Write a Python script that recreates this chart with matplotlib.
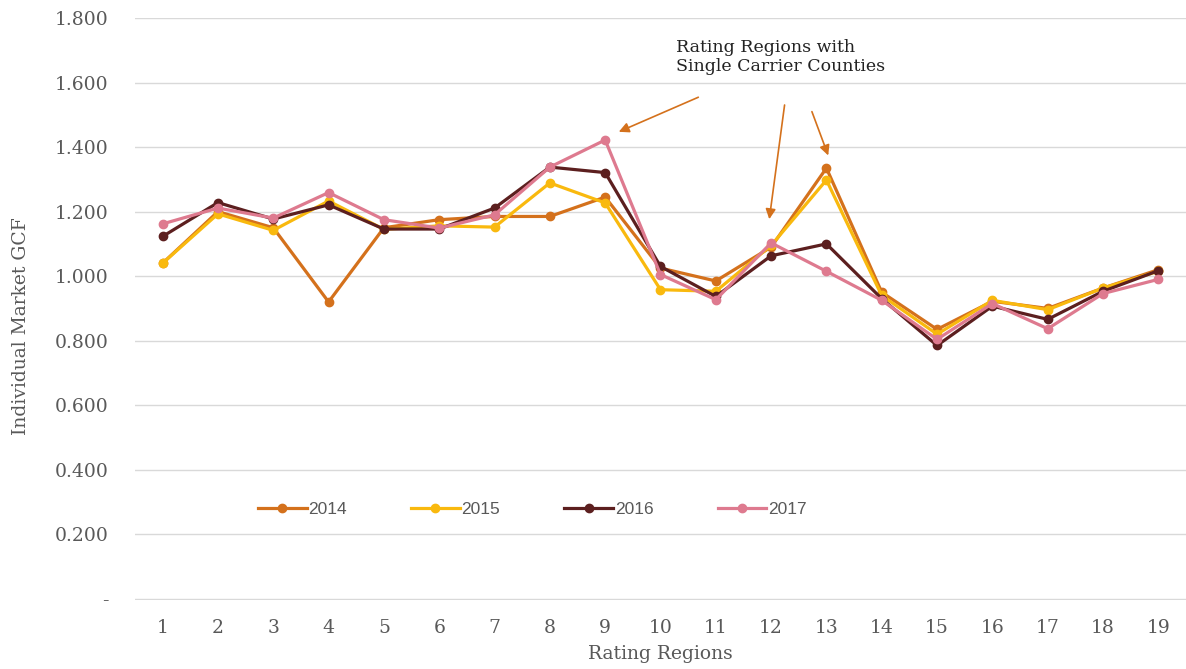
import matplotlib.pyplot as plt
from matplotlib.ticker import FuncFormatter

regions = list(range(1, 20))
gcf_2014 = [1.040, 1.200, 1.150, 0.920, 1.150, 1.175, 1.185, 1.185, 1.245, 1.025, 0.985, 1.090, 1.335, 0.950, 0.835, 0.922, 0.900, 0.963, 1.020]
gcf_2015 = [1.040, 1.193, 1.142, 1.233, 1.145, 1.156, 1.152, 1.289, 1.227, 0.958, 0.953, 1.095, 1.298, 0.940, 0.820, 0.925, 0.896, 0.963, 1.015]
gcf_2016 = [1.123, 1.228, 1.177, 1.221, 1.146, 1.146, 1.211, 1.338, 1.321, 1.030, 0.937, 1.063, 1.100, 0.930, 0.785, 0.907, 0.866, 0.953, 1.017]
gcf_2017 = [1.162, 1.211, 1.180, 1.259, 1.175, 1.149, 1.190, 1.338, 1.422, 1.005, 0.927, 1.103, 1.015, 0.925, 0.804, 0.915, 0.837, 0.946, 0.990]

series = [
    ("2014", gcf_2014, "#D4711C"),
    ("2015", gcf_2015, "#F9B90E"),
    ("2016", gcf_2016, "#5C1F1F"),
    ("2017", gcf_2017, "#DE7A8F"),
]

SERIF = ["DejaVu Serif"]
SANS = ["Liberation Sans", "DejaVu Sans"]
GRAY = "#595959"

fig = plt.figure(figsize=(11.86, 6.69), dpi=100)
ax = fig.add_axes([0.1138, 0.1031, 0.8862, 0.8699])

for name, vals, col in series:
    ax.plot(regions, vals, color=col, lw=2.3, marker="o", ms=6, label=name)

ax.set_xlim(0.5, 19.5)
ax.set_ylim(-0.004, 1.8)
ax.set_yticks([0, 0.2, 0.4, 0.6, 0.8, 1.0, 1.2, 1.4, 1.6, 1.8])
ax.set_xticks(regions)
ax.yaxis.set_major_formatter(FuncFormatter(lambda v, p: "-" if abs(v) < 1e-9 else f"{v:.3f}"))
ax.grid(axis="y", color="#D9D9D9", lw=1)
ax.set_axisbelow(True)
for s in ax.spines.values():
    s.set_visible(False)
ax.tick_params(length=0, colors=GRAY, labelsize=13.5)
ax.tick_params(axis="y", pad=19)
ax.tick_params(axis="x", pad=14)
for lbl in ax.get_xticklabels() + ax.get_yticklabels():
    lbl.set_family(SERIF)

ax.set_ylabel("Individual Market GCF", family=SERIF, fontsize=13.5, color=GRAY)
ax.yaxis.set_label_coords(-0.1, 0.47)
ax.set_xlabel("Rating Regions", family=SERIF, fontsize=13.5, color=GRAY)
ax.xaxis.set_label_coords(0.5, -0.078)

leg = ax.legend(loc="center", bbox_to_anchor=(0.378, 0.155), ncol=4, frameon=False,
                columnspacing=3.7, handlelength=2.8, handletextpad=0.1,
                prop={"family": SANS, "size": 12.5})
for t in leg.get_texts():
    t.set_color(GRAY)

ax.text(10.28, 1.735, "Rating Regions with\nSingle Carrier Counties", family=SERIF,
        fontsize=12.5, ha="left", va="top", linespacing=1.15, color="#222222")
arrow = dict(arrowstyle="-|>", color="#D4711C", lw=1.2, mutation_scale=15)
ax.annotate("", xy=(9.20, 1.444), xytext=(10.73, 1.558), arrowprops=arrow)
ax.annotate("", xy=(11.96, 1.168), xytext=(12.25, 1.539), arrowprops=arrow)
ax.annotate("", xy=(13.05, 1.366), xytext=(12.72, 1.518), arrowprops=arrow)

fig.savefig("out.png", dpi=100)
